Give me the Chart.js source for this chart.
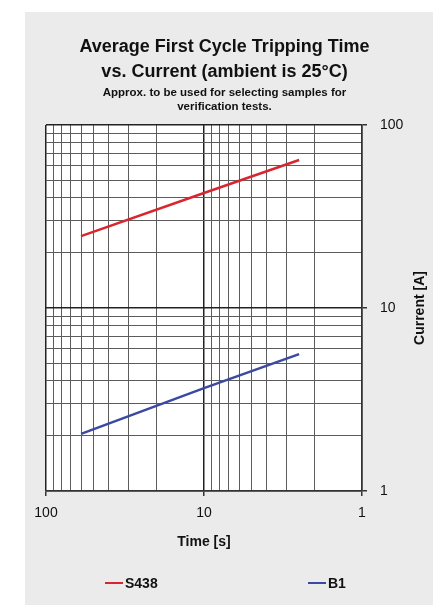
<!DOCTYPE html>
<html>
<head>
<meta charset="utf-8">
<script src="https://cdn.jsdelivr.net/npm/chart.js@4.4.0/dist/chart.umd.min.js"></script>
<style>
  body { margin: 0; background: #ffffff; }
  #panel { position: absolute; left: 25px; top: 12px; width: 408px; height: 593px; background: #ebebeb; }
  canvas { display: block; }
</style>
</head>
<body>
<div id="panel"><canvas id="myChart" width="408" height="593"></canvas></div>
<script>
// values
const timeSeconds = [60, 10, 2.5];
const s438Current = [24.7, 42.5, 64.4];
const b1Current = [2.05, 3.65, 5.6];
const seriesNames = ['S438', 'B1'];
const decadeTicks = [1, 10, 100];
const minorTicks = [2, 3, 4, 5, 6, 7, 8, 9, 20, 30, 40, 50, 60, 70, 80, 90];

const FONT = '"Liberation Sans", Arial, sans-serif';

function points(xs, ys) {
    return xs.map((x, i) => ({ x: x, y: ys[i] }));
}

function isDecade(v) {
    return decadeTicks.includes(v);
}

function allTicks() {
    return decadeTicks.concat(minorTicks).sort((a, b) => a - b).map(v => ({ value: v }));
}

const gridColor = ctx => (ctx.tick && isDecade(ctx.tick.value)) ? '#222222' : '#5c5c5c';
const gridWidth = ctx => (ctx.tick && isDecade(ctx.tick.value)) ? 1.5 : 1;

const panelPlugin = {
    id: 'panel',
    beforeDraw(chart) {
        const { ctx, chartArea } = chart;
        ctx.save();
        ctx.fillStyle = '#ffffff';
        ctx.fillRect(chartArea.left, chartArea.top, chartArea.right - chartArea.left, chartArea.bottom - chartArea.top);
        ctx.restore();
    },
    afterDraw(chart) {
        const ctx = chart.ctx;
        ctx.save();
        // y axis title, reads bottom to top
        ctx.translate(395, 296);
        ctx.rotate(-Math.PI / 2);
        ctx.fillStyle = '#111111';
        ctx.font = 'bold 14px ' + FONT;
        ctx.textAlign = 'center';
        ctx.textBaseline = 'middle';
        ctx.fillText('Current [A]', 0, 0);
        ctx.restore();

        // legend
        const legendX = [80, 283];
        const legendY = 571;
        ctx.save();
        ctx.font = 'bold 14px ' + FONT;
        ctx.textBaseline = 'middle';
        ctx.textAlign = 'left';
        chart.data.datasets.forEach((ds, i) => {
            ctx.strokeStyle = ds.borderColor;
            ctx.lineWidth = 2;
            ctx.beginPath();
            ctx.moveTo(legendX[i], legendY);
            ctx.lineTo(legendX[i] + 18, legendY);
            ctx.stroke();
            ctx.fillStyle = '#111111';
            ctx.fillText(ds.label, legendX[i] + 20, legendY + 1);
        });
        ctx.restore();
    }
};

const ctx = document.getElementById('myChart').getContext('2d');
new Chart(ctx, {
    type: 'line',
    data: {
        datasets: [{
            label: seriesNames[0],
            data: points(timeSeconds, s438Current),
            borderColor: '#d8262f',
            borderWidth: 2.5,
            pointRadius: 0
        }, {
            label: seriesNames[1],
            data: points(timeSeconds, b1Current),
            borderColor: '#3b4aa0',
            borderWidth: 2.5,
            pointRadius: 0
        }]
    },
    options: {
        responsive: false,
        animation: false,
        layout: { padding: { left: 21, right: 30, top: 0, bottom: 44 } },
        plugins: {
            legend: { display: false },
            tooltip: { enabled: false },
            title: {
                display: true,
                text: ['Average First Cycle Tripping Time', 'vs. Current (ambient is 25°C)'],
                color: '#111111',
                font: { family: FONT, size: 18, weight: 'bold', lineHeight: '25px' },
                padding: { top: 23, bottom: 1 }
            },
            subtitle: {
                display: true,
                text: ['Approx. to be used for selecting samples for', 'verification tests.'],
                color: '#111111',
                font: { family: FONT, size: 11.5, weight: 'bold', lineHeight: '14px' },
                padding: { top: 0, bottom: 11 }
            }
        },
        scales: {
            x: {
                type: 'logarithmic',
                reverse: true,
                min: 1,
                max: 100,
                position: 'bottom',
                afterBuildTicks: scale => { scale.ticks = allTicks(); },
                afterFit: scale => { scale.height = 70; },
                ticks: {
                    autoSkip: false,
                    maxRotation: 0,
                    padding: 9,
                    color: '#111111',
                    font: { family: FONT, size: 14 },
                    callback: v => isDecade(v) ? String(v) : ''
                },
                grid: {
                    color: gridColor,
                    lineWidth: gridWidth,
                    tickLength: 5,
                    tickColor: ctx => (ctx.tick && isDecade(ctx.tick.value)) ? '#333333' : 'rgba(0,0,0,0)'
                },
                border: { color: '#333333', width: 1.5 },
                title: {
                    display: true,
                    text: 'Time [s]',
                    color: '#111111',
                    font: { family: FONT, size: 14, weight: 'bold' },
                    padding: { top: 0, bottom: 10 }
                }
            },
            y: {
                type: 'logarithmic',
                min: 1,
                max: 100,
                position: 'right',
                afterBuildTicks: scale => { scale.ticks = allTicks(); },
                afterFit: scale => { scale.width = 41; },
                ticks: {
                    autoSkip: false,
                    padding: 13,
                    color: '#111111',
                    font: { family: FONT, size: 14 },
                    callback: v => isDecade(v) ? String(v) : ''
                },
                grid: {
                    color: gridColor,
                    lineWidth: gridWidth,
                    tickLength: 5,
                    tickColor: ctx => (ctx.tick && isDecade(ctx.tick.value)) ? '#333333' : 'rgba(0,0,0,0)'
                },
                border: { color: '#333333', width: 1.5 }
            }
        }
    },
    plugins: [panelPlugin]
});
</script>
</body>
</html>
